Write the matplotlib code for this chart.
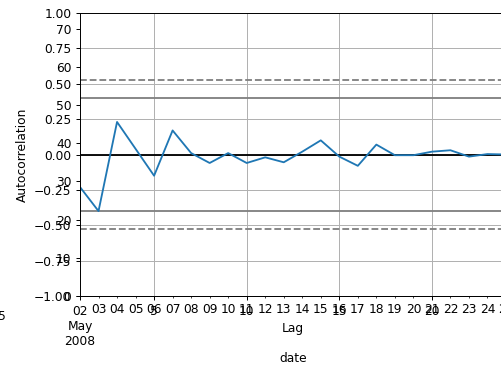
import numpy as np
import pandas as pd
import matplotlib
matplotlib.use("Agg")
import matplotlib.pyplot as plt

# autocorrelation values for lags 1..24
lags = np.arange(1, 25)
acf = [-0.23, -0.40, 0.23, 0.04, -0.15, 0.17, 0.01, -0.06, 0.01, -0.06,
       -0.02, -0.055, 0.02, 0.10, -0.015, -0.08, 0.07, -0.005, -0.005, 0.02,
       0.03, -0.015, 0.003, 0.0]
n = len(acf)

# underlying date axis of the series
dates = pd.date_range("2008-05-02", "2008-05-25", freq="D")
value_ticks = [0, 10, 20, 30, 40, 50, 60, 70]
value_max = 74.1

W, H = 501, 369
DPI = 88
fig = plt.figure(figsize=(W / DPI, H / DPI), dpi=DPI)
rect = [80 / W, (H - 296) / H, 426 / W, 283 / H]

# first axes: the date-indexed plot hidden underneath
ax_d = fig.add_axes(rect)
ax_d.set_xlim(dates[0], dates[-1])
ax_d.set_ylim(0, value_max)
ax_d.set_yticks(value_ticks)
ax_d.set_xticks([dates[0]], ["02\nMay\n2008"])
ax_d.set_xticks(dates[1:], [d.strftime("%d") for d in dates[1:]], minor=True)
ax_d.set_xlabel("date")

# second axes: pandas style autocorrelation plot on top
ax = fig.add_axes(rect)
ax.set_facecolor("white")
z95, z99 = 1.959963984540054, 2.5758293035489004
ax.axhline(y=z99 / np.sqrt(n), linestyle="--", color="grey")
ax.axhline(y=z95 / np.sqrt(n), color="grey")
ax.axhline(y=0.0, color="black")
ax.axhline(y=-z95 / np.sqrt(n), color="grey")
ax.axhline(y=-z99 / np.sqrt(n), linestyle="--", color="grey")
ax.plot(lags, acf)
ax.set_xlim(1, n)
ax.set_ylim(-1.0, 1.0)
ax.set_xlabel("Lag")
ax.set_ylabel("Autocorrelation")
ax.grid()

# clipped leftover label at the far left edge
fig.text(6 / W, (H - 316) / H, "5", ha="right", va="center")

fig.savefig("out.png", dpi=DPI)
